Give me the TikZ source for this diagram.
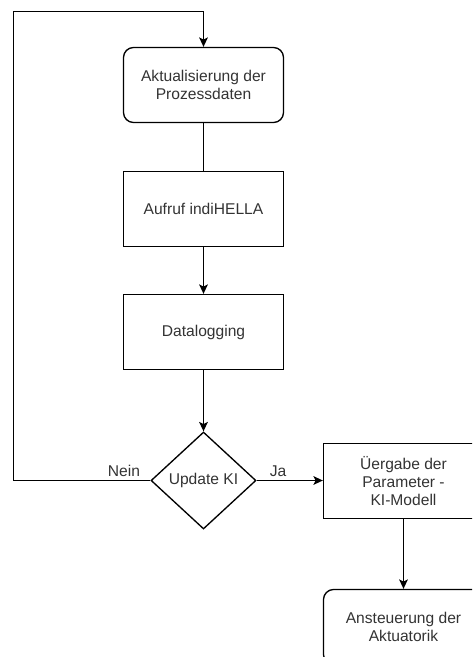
\documentclass[tikz,border=0pt]{standalone}
\usepackage{fontspec}
\setmainfont{Liberation Sans}
\usetikzlibrary{shapes.geometric,arrows.meta}

\definecolor{txt}{HTML}{333333}

\tikzset{
  base/.style={draw=black, line width=1pt, text=txt, align=center,
    font=\fontsize{11.7}{13.2}\selectfont, inner sep=2pt},
  procbox/.style={base, rectangle, minimum width=120pt, minimum height=56.25pt},
  roundbox/.style={procbox, rounded corners=7.5pt},
  decision/.style={base, diamond, inner sep=0pt, minimum width=78.75pt, minimum height=72.75pt},
  link/.style={draw=black, line width=1pt},
  flow/.style={link, -{Stealth[length=7pt, width=6.5pt, inset=1.5pt]}},
  lbl/.style={text=txt, font=\fontsize{11.7}{13.2}\selectfont, anchor=base, inner sep=0pt}
}

\begin{document}
\begin{tikzpicture}[x=0.75pt, y=-0.75pt]
  \useasboundingbox (0,0) rectangle (472,657);
  \clip (0,0) rectangle (472,657);

  % main column
  \node[roundbox] (upd)  at (203.5,85)  {Aktualisierung der\\Prozessdaten};
  \node[procbox]  (call) at (203.5,209) {Aufruf indiHELLA};
  \node[procbox]  (log)  at (203.5,332) {Datalogging};
  \node[decision] (ki)   at (203.5,480.5) {Update KI};

  % right branch
  \node[procbox]  (par)  at (403.5,481) {Üergabe der\\Parameter -\\KI-Modell};
  \node[roundbox] (act)  at (403.5,627) {Ansteuerung der\\Aktuatorik};

  % loop-back corners
  \coordinate (cl) at (13.5,480.5);
  \coordinate (tl) at (13.5,11.5);
  \coordinate (tr) at (203.5,11.5);

  \draw[link] (upd) -- (call);
  \draw[flow] (call) -- (log);
  \draw[flow] (log) -- (ki);
  \draw[flow] (ki.east) -- (ki.east -| par.west);
  \draw[flow] (par.south -| act.north) -- (act.north);
  \draw[flow] (ki.west) -- (cl) -- (tl) -- (tr) -- (upd.north);

  % branch labels
  \node[lbl] (nein) at (124,476) {Nein};
  \node[lbl] (ja)   at (278,476) {Ja};
\end{tikzpicture}
\end{document}
